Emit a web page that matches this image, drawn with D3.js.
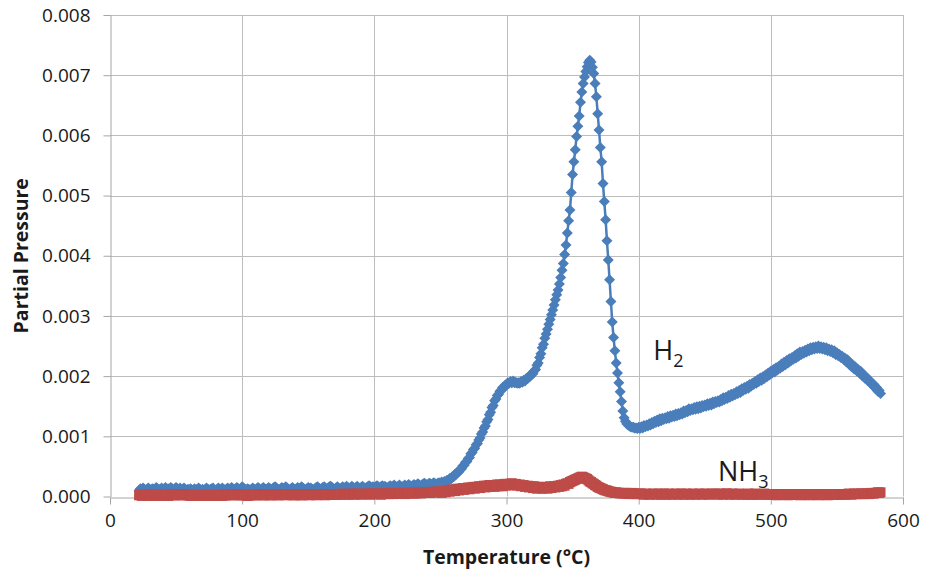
<!DOCTYPE html>
<html>
<head>
<meta charset="utf-8">
<script src="https://cdn.jsdelivr.net/npm/d3@7"></script>
<style>
  html, body { margin: 0; padding: 0; background: #ffffff; }
  svg { display: block; }
  text { font-family: "Open Sans", "Liberation Sans", sans-serif; fill: #1a1a1a; }
</style>
</head>
<body>
<svg id="chart" width="925" height="572"></svg>
<script>
// Temperature-programmed desorption: one reading per degree from 22 °C to 583 °C.
const tStart = 22;
const tStep = 1;

// H2 partial pressure, in units of 1e-5 (one row per ten degrees; first row is 22–29 °C).
const h2E5 = [
  10, 13, 11, 14, 12, 10, 12, 14,
  12, 10, 13, 12, 11, 15, 13, 12, 10, 14,
  12, 13, 15, 11, 13, 12, 15, 13, 11, 13,
  15, 13, 11, 14, 10, 12, 14, 12, 10, 12,
  11, 13, 9, 11, 13, 10, 12, 14, 12, 10,
  12, 10, 12, 14, 12, 10, 12, 13, 14, 11,
  10, 12, 14, 12, 11, 14, 12, 10, 12, 14,
  12, 13, 15, 13, 11, 13, 15, 13, 11, 13,
  16, 14, 12, 11, 13, 12, 10, 12, 14, 12,
  11, 13, 15, 13, 11, 13, 15, 13, 11, 13,
  15, 13, 11, 13, 15, 16, 14, 12, 11, 13,
  15, 13, 14, 16, 14, 12, 11, 13, 15, 13,
  11, 13, 15, 13, 14, 16, 14, 12, 11, 13,
  15, 13, 14, 12, 11, 13, 15, 16, 14, 12,
  13, 15, 16, 14, 12, 14, 16, 17, 15, 13,
  12, 14, 16, 14, 12, 14, 16, 14, 15, 17,
  15, 13, 15, 17, 15, 13, 15, 17, 15, 13,
  15, 17, 15, 13, 15, 16, 18, 16, 14, 16,
  14, 16, 18, 16, 14, 16, 18, 16, 17, 15,
  14, 16, 18, 16, 17, 19, 17, 15, 17, 19,
  17, 15, 17, 19, 17, 18, 20, 18, 16, 18,
  20, 18, 19, 21, 19, 17, 19, 21, 22, 20,
  19, 21, 22, 20, 21, 23, 21, 20, 22, 23,
  22, 24, 22, 25, 24, 27, 26, 30, 29, 33,
  33, 37, 37, 41, 41, 45, 46, 51, 52, 57,
  58, 63, 65, 71, 73, 78, 80, 86, 88, 94,
  97, 104, 107, 114, 117, 124, 128, 136, 140, 148,
  151, 159, 162, 168, 170, 175, 176, 181, 181, 185,
  185, 189, 188, 191, 189, 192, 189, 190, 188, 189,
  188, 191, 190, 193, 192, 196, 196, 200, 200, 204,
  204, 209, 211, 218, 222, 231, 237, 247, 253, 263,
  270, 278, 286, 294, 302, 310, 318, 327, 335, 343,
  353, 364, 376, 387, 402, 418, 438, 458, 476, 505,
  535, 556, 576, 598, 615, 632, 655, 672, 686, 697,
  706, 714, 721, 725, 722, 713, 703, 686, 664, 636,
  609, 580, 556, 520, 490, 460, 425, 393, 360, 324,
  290, 264, 242, 222, 205, 189, 174, 158, 142, 131,
  125, 121, 119, 117, 116, 115, 115, 114, 114, 113,
  115, 113, 116, 114, 118, 116, 119, 117, 121, 119,
  123, 121, 125, 123, 127, 124, 129, 126, 130, 128,
  131, 129, 133, 130, 134, 132, 135, 133, 137, 134,
  138, 136, 139, 137, 142, 139, 143, 141, 146, 143,
  146, 144, 148, 145, 149, 146, 150, 147, 151, 149,
  152, 150, 154, 151, 155, 152, 157, 154, 158, 156,
  159, 157, 161, 159, 164, 161, 165, 163, 168, 165,
  170, 167, 171, 169, 174, 171, 176, 173, 179, 176,
  181, 178, 183, 180, 186, 183, 188, 186, 191, 188,
  194, 191, 197, 193, 199, 196, 202, 199, 205, 202,
  208, 205, 211, 207, 214, 210, 216, 213, 220, 216,
  223, 219, 226, 222, 229, 225, 231, 228, 234, 230,
  237, 233, 240, 236, 241, 238, 243, 240, 245, 242,
  247, 244, 248, 245, 249, 246, 250, 246, 249, 245,
  248, 244, 247, 242, 245, 241, 244, 239, 242, 236,
  239, 234, 236, 231, 233, 228, 230, 224, 227, 220,
  222, 216, 219, 212, 215, 209, 211, 205, 208, 201,
  203, 197, 199, 193, 195, 189, 190, 185, 186, 180,
  181, 175, 176, 171
];

// NH3 partial pressure, in units of 1e-5 (same temperature grid).
const nh3E5 = [
  2, 3, 1, 2, 3, 2, 1, 3,
  2, 3, 2, 1, 2, 3, 2, 3, 1, 2,
  3, 2, 2, 3, 1, 2, 3, 2, 3, 2,
  3, 4, 3, 2, 3, 2, 3, 4, 3, 2,
  2, 1, 2, 3, 2, 1, 2, 3, 2, 2,
  3, 2, 1, 2, 3, 2, 3, 2, 1, 2,
  2, 3, 2, 3, 2, 1, 2, 3, 2, 3,
  2, 3, 3, 2, 3, 4, 3, 2, 3, 2,
  3, 2, 3, 2, 1, 2, 3, 2, 3, 2,
  3, 2, 3, 4, 3, 2, 3, 2, 3, 3,
  2, 3, 2, 3, 4, 3, 2, 3, 2, 3,
  3, 4, 3, 2, 3, 4, 3, 3, 2, 3,
  2, 3, 4, 3, 2, 3, 2, 3, 4, 3,
  3, 2, 3, 4, 3, 3, 2, 3, 4, 3,
  3, 4, 3, 2, 3, 4, 3, 4, 3, 3,
  4, 3, 3, 4, 3, 4, 5, 4, 3, 4,
  4, 3, 4, 5, 4, 3, 4, 5, 4, 4,
  3, 4, 5, 4, 4, 5, 4, 3, 4, 5,
  4, 5, 4, 5, 4, 3, 4, 5, 5, 4,
  5, 4, 5, 6, 5, 4, 5, 5, 6, 5,
  5, 6, 5, 4, 5, 6, 6, 5, 6, 5,
  6, 5, 6, 7, 6, 5, 6, 7, 6, 7,
  6, 7, 6, 7, 8, 7, 7, 8, 7, 8,
  8, 6, 9, 9, 7, 10, 10, 8, 11, 10,
  12, 9, 12, 13, 10, 13, 12, 14, 11, 14,
  13, 15, 12, 15, 14, 16, 13, 16, 15, 17,
  14, 17, 16, 18, 15, 18, 17, 19, 16, 19,
  18, 16, 19, 20, 17, 20, 19, 17, 20, 21,
  18, 21, 19, 21, 22, 19, 20, 21, 18, 19,
  20, 17, 18, 19, 16, 17, 18, 15, 16, 17,
  14, 17, 15, 13, 16, 14, 16, 13, 15, 14,
  16, 13, 15, 17, 14, 16, 17, 15, 17, 18,
  16, 19, 17, 20, 18, 21, 22, 21, 24, 25,
  26, 27, 28, 29, 30, 31, 32, 33, 32, 31,
  30, 29, 27, 25, 24, 22, 21, 19, 18, 16,
  15, 14, 13, 12, 11, 10, 10, 9, 8, 8,
  7, 7, 6, 7, 6, 6, 5, 6, 5, 6,
  5, 6, 5, 4, 5, 6, 5, 4, 5, 4,
  5, 4, 5, 4, 3, 4, 5, 4, 3, 4,
  4, 5, 4, 3, 4, 5, 4, 3, 4, 5,
  4, 3, 4, 5, 4, 3, 4, 4, 5, 4,
  3, 4, 5, 4, 3, 4, 5, 4, 4, 3,
  4, 5, 4, 3, 4, 4, 5, 4, 3, 4,
  5, 4, 4, 3, 4, 5, 4, 4, 5, 4,
  3, 4, 5, 4, 3, 4, 5, 5, 4, 3,
  4, 5, 4, 3, 4, 4, 5, 4, 3, 4,
  4, 3, 4, 5, 4, 3, 3, 4, 5, 4,
  3, 4, 4, 3, 4, 5, 4, 3, 4, 3,
  4, 3, 4, 4, 3, 2, 3, 4, 3, 4,
  3, 4, 3, 2, 3, 4, 3, 4, 3, 3,
  4, 3, 2, 3, 4, 3, 3, 4, 3, 2,
  3, 4, 3, 3, 4, 3, 2, 3, 4, 3,
  3, 4, 3, 2, 3, 4, 3, 3, 4, 3,
  4, 3, 3, 4, 3, 4, 4, 3, 4, 5,
  4, 3, 4, 5, 4, 4, 5, 4, 5, 4,
  5, 4, 5, 5, 4, 5, 6, 5, 5, 6,
  6, 7, 6, 7
];
const unitScale = 1e-5;

const xTicks = [0, 100, 200, 300, 400, 500, 600];
const yTicks = [0, 0.001, 0.002, 0.003, 0.004, 0.005, 0.006, 0.007, 0.008];
const xTitle = "Temperature (°C)";
const yTitle = "Partial Pressure";
const seriesLabels = [
  { name: "H", sub: "2", t: 411, v: 0.00227 },
  { name: "NH", sub: "3", t: 460, v: 0.00026 }
];

const svg = d3.select("#chart");
const plot = { left: 110, right: 903, top: 15, bottom: 496.5 };

const x = d3.scaleLinear().domain([0, 600]).range([plot.left, plot.right]);
const y = d3.scaleLinear().domain([0, 0.008]).range([plot.bottom, plot.top]);

const toPoints = arr => arr.map((n, i) => ({ t: tStart + i * tStep, v: n * unitScale }));
const h2 = toPoints(h2E5);
const nh3 = toPoints(nh3E5);

// gridlines
const grid = svg.append("g").attr("stroke", "#bdbdbd").attr("stroke-width", 1);
grid.selectAll("line.h").data(yTicks.filter(d => d > 0)).join("line")
  .attr("x1", plot.left).attr("x2", plot.right)
  .attr("y1", d => Math.round(y(d)) + 0.5).attr("y2", d => Math.round(y(d)) + 0.5);
grid.selectAll("line.v").data(xTicks.filter(d => d > 0)).join("line")
  .attr("y1", plot.top).attr("y2", plot.bottom)
  .attr("x1", d => Math.round(x(d)) + 0.5).attr("x2", d => Math.round(x(d)) + 0.5);

// axes
const yAxis = svg.append("g")
  .attr("transform", `translate(${plot.left + 0.5},0)`)
  .call(d3.axisLeft(y).tickValues(yTicks).tickFormat(d3.format(".3f")).tickSize(7).tickPadding(13).tickSizeOuter(0));
const xAxis = svg.append("g")
  .attr("transform", `translate(0,${Math.round(plot.bottom) + 0.5})`)
  .call(d3.axisBottom(x).tickValues(xTicks).tickFormat(d3.format("d")).tickSize(7).tickPadding(9).tickSizeOuter(0));
[yAxis, xAxis].forEach(g => {
  g.select(".domain").attr("stroke", "#a6a6a6");
  g.selectAll(".tick line").attr("stroke", "#a6a6a6");
  g.selectAll(".tick text").attr("font-size", 19).attr("fill", "#1a1a1a")
    .attr("font-family", "'Open Sans', 'Liberation Sans', sans-serif");
});

// axis titles
svg.append("text")
  .attr("x", (plot.left + plot.right) / 2).attr("y", 564)
  .attr("text-anchor", "middle").attr("font-size", 19.5).attr("font-weight", "bold")
  .text(xTitle);
svg.append("text")
  .attr("transform", `translate(28,${(plot.top + plot.bottom) / 2}) rotate(-90)`)
  .attr("text-anchor", "middle").attr("font-size", 19.5).attr("font-weight", "bold")
  .text(yTitle);

// series
const line = d3.line().x(d => x(d.t)).y(d => y(d.v));
const diamond = {
  draw(ctx, size) {
    const r = Math.sqrt(size) / 2;
    ctx.moveTo(0, -r); ctx.lineTo(r, 0); ctx.lineTo(0, r); ctx.lineTo(-r, 0); ctx.closePath();
  }
};

const blue = "#4a7ebb";
const red = "#be4b48";

svg.append("path").datum(h2).attr("d", line)
  .attr("fill", "none").attr("stroke", blue).attr("stroke-width", 2.5);
svg.append("g").selectAll("path").data(h2).join("path")
  .attr("transform", d => `translate(${x(d.t)},${y(d.v)})`)
  .attr("d", d3.symbol().type(diamond).size(121)())
  .attr("fill", blue);

svg.append("path").datum(nh3).attr("d", line)
  .attr("fill", "none").attr("stroke", red).attr("stroke-width", 2.5);
svg.append("g").selectAll("path").data(nh3).join("path")
  .attr("transform", d => `translate(${x(d.t)},${y(d.v)})`)
  .attr("d", d3.symbol().type(d3.symbolSquare).size(100)())
  .attr("fill", red);

// series labels
seriesLabels.forEach(s => {
  const t = svg.append("text")
    .attr("x", x(s.t)).attr("y", y(s.v))
    .attr("font-size", 27);
  t.append("tspan").text(s.name);
  t.append("tspan").attr("font-size", 18).attr("dy", 7).text(s.sub);
});
</script>
</body>
</html>
